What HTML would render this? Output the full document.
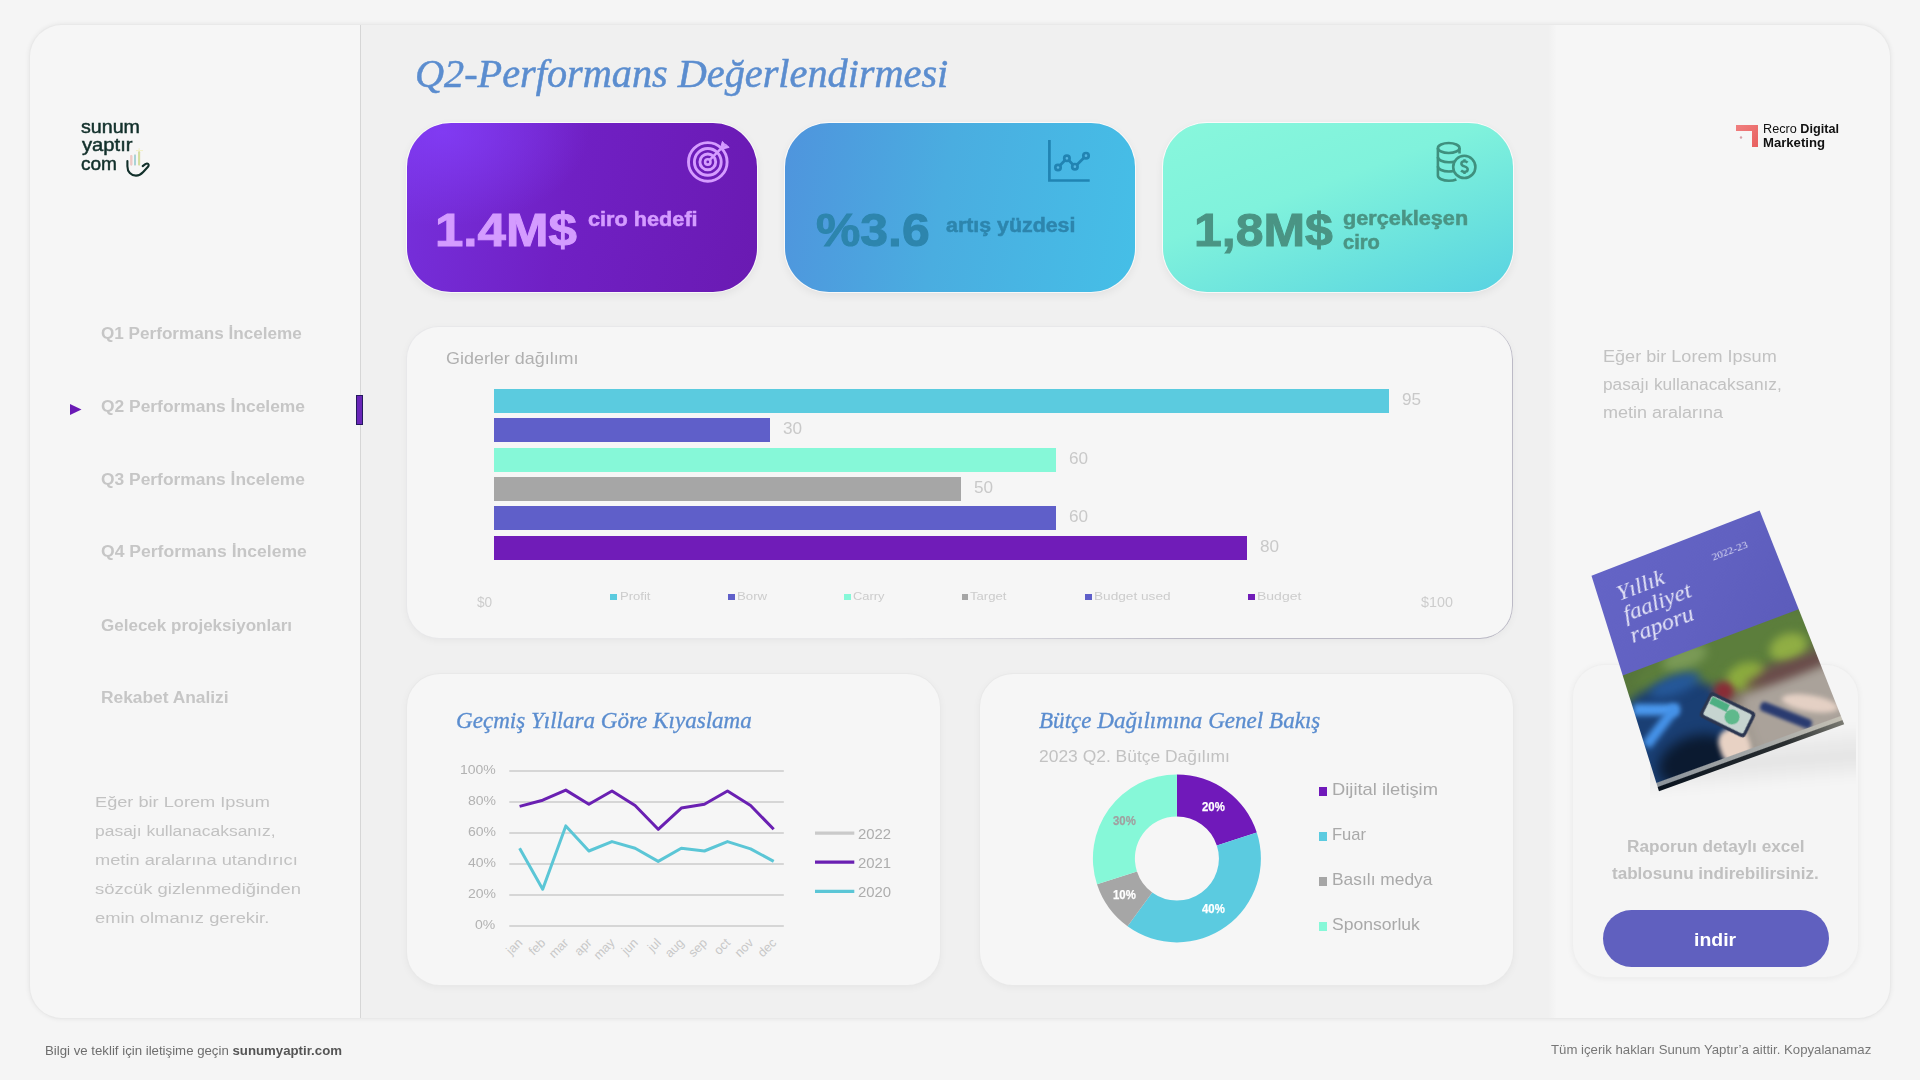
<!DOCTYPE html>
<html lang="tr">
<head>
<meta charset="utf-8">
<title>Q2-Performans Değerlendirmesi</title>
<style>
*{margin:0;padding:0;box-sizing:border-box}
html,body{width:1920px;height:1080px;overflow:hidden}
body{background:#f5f5f5;font-family:"Liberation Sans",sans-serif;position:relative}
.abs{position:absolute;white-space:nowrap;line-height:1}
.t{position:absolute;white-space:nowrap;line-height:1}
#main{position:absolute;left:30px;top:25px;width:1860px;height:993px;border-radius:32px;background:#f6f6f6;
 box-shadow:0 0 0 1px #e9e9e9,0 0 5px 1px rgba(0,0,0,.07);overflow:hidden}
#center{position:absolute;left:330px;top:0;width:1196px;height:993px;background:linear-gradient(90deg,#f0f0f0 0,#f0f0f0 1187px,#f6f6f6 1196px);border-left:1px solid #d6d6d6}
.card{position:absolute;background:#f6f6f6;border-radius:36px;box-shadow:0 0 0 1px #e9e9e9,0 2px 8px rgba(0,0,0,.05)}
.kpi{position:absolute;border-radius:44px;box-shadow:0 0 0 1px rgba(255,255,255,.75),0 3px 10px rgba(0,0,0,.07)}
.serif{font-family:"Liberation Serif",serif;font-style:italic}
</style>
</head>
<body>
<div id="main">
  <div id="center"></div>
</div>
<div class="t" style="left:81.10px;top:116.92px;font-size:19px;color:#12302b;font-family:'Liberation Sans',sans-serif;font-weight:normal;font-style:normal;transform:scaleX(1.0333);transform-origin:0 0;-webkit-text-stroke:0.5px #12302b;">sunum</div>
<div class="t" style="left:81.50px;top:134.92px;font-size:19px;color:#12302b;font-family:'Liberation Sans',sans-serif;font-weight:normal;font-style:normal;transform:scaleX(1.0625);transform-origin:0 0;-webkit-text-stroke:0.5px #12302b;">yaptır</div>
<div class="t" style="left:81.10px;top:153.62px;font-size:19px;color:#12302b;font-family:'Liberation Sans',sans-serif;font-weight:normal;font-style:normal;transform:scaleX(1.0028);transform-origin:0 0;-webkit-text-stroke:0.5px #12302b;">com</div>
<svg class="abs" style="left:120px;top:140px" width="36" height="40" viewBox="120 140 36 40">
 <path d="M131.3 156V164.4M135 155.4V164.6M139.1 152.2V164.4" stroke-width="2" stroke-linecap="round" fill="none" stroke="#e8d0c8"/>
 <path d="M135 155.4V164.6" stroke-width="2" stroke-linecap="round" stroke="#a9d3d6"/>
 <path d="M139.1 152.2V164.4" stroke-width="2" stroke-linecap="round" stroke="#d3df9e"/>
 <path d="M131.3 156V164.4" stroke-width="2" stroke-linecap="round" stroke="#efc9c6"/>
 <path d="M136 150.6H143M139.1 148.2V150" stroke-width="1" stroke="#f1efc4"/>
 <path d="M127.4 161V166.2C127.4 172 131 175.6 136 175.6C139.2 175.6 141.2 174.2 143.2 172L148 166.8C149.3 165.2 148.6 163.4 146.9 163.5C145.7 163.6 144.4 164.6 142.7 166.1" fill="none" stroke="#12302b" stroke-width="2.1" stroke-linecap="round" stroke-linejoin="round"/>
</svg>
<div class="t" style="left:100.60px;top:326.46px;font-size:16px;color:#c6c6c6;font-family:'Liberation Sans',sans-serif;font-weight:bold;font-style:normal;transform:scaleX(1.0697);transform-origin:0 0;">Q1 Performans İnceleme</div>
<div class="t" style="left:100.60px;top:399.46px;font-size:16px;color:#c6c6c6;font-family:'Liberation Sans',sans-serif;font-weight:bold;font-style:normal;transform:scaleX(1.0872);transform-origin:0 0;">Q2 Performans İnceleme</div>
<div class="t" style="left:100.60px;top:472.26px;font-size:16px;color:#c6c6c6;font-family:'Liberation Sans',sans-serif;font-weight:bold;font-style:normal;transform:scaleX(1.0872);transform-origin:0 0;">Q3 Performans İnceleme</div>
<div class="t" style="left:100.60px;top:544.46px;font-size:16px;color:#c6c6c6;font-family:'Liberation Sans',sans-serif;font-weight:bold;font-style:normal;transform:scaleX(1.0968);transform-origin:0 0;">Q4 Performans İnceleme</div>
<div class="t" style="left:100.60px;top:617.76px;font-size:16px;color:#c6c6c6;font-family:'Liberation Sans',sans-serif;font-weight:bold;font-style:normal;transform:scaleX(1.0633);transform-origin:0 0;">Gelecek projeksiyonları</div>
<div class="t" style="left:100.60px;top:690.26px;font-size:16px;color:#c6c6c6;font-family:'Liberation Sans',sans-serif;font-weight:bold;font-style:normal;transform:scaleX(1.0839);transform-origin:0 0;">Rekabet Analizi</div>
<svg class="abs" style="left:70px;top:404px" width="12" height="11"><path d="M0 0L11.5 5.5L0 11Z" fill="#6a1ab5"/></svg>
<div class="abs" style="left:356px;top:395px;width:7px;height:30px;background:#6a26b8;border:1px solid #241a5e"></div>
<div class="t" style="left:94.80px;top:794.48px;font-size:15.5px;color:#c2c2c2;font-family:'Liberation Sans',sans-serif;font-weight:normal;font-style:normal;transform:scaleX(1.1732);transform-origin:0 0;">Eğer bir Lorem Ipsum</div>
<div class="t" style="left:94.80px;top:823.28px;font-size:15.5px;color:#c2c2c2;font-family:'Liberation Sans',sans-serif;font-weight:normal;font-style:normal;transform:scaleX(1.1262);transform-origin:0 0;">pasajı kullanacaksanız,</div>
<div class="t" style="left:94.80px;top:851.98px;font-size:15.5px;color:#c2c2c2;font-family:'Liberation Sans',sans-serif;font-weight:normal;font-style:normal;transform:scaleX(1.1767);transform-origin:0 0;">metin aralarına utandırıcı</div>
<div class="t" style="left:94.80px;top:880.98px;font-size:15.5px;color:#c2c2c2;font-family:'Liberation Sans',sans-serif;font-weight:normal;font-style:normal;transform:scaleX(1.1902);transform-origin:0 0;">sözcük gizlenmediğinden</div>
<div class="t" style="left:94.80px;top:909.68px;font-size:15.5px;color:#c2c2c2;font-family:'Liberation Sans',sans-serif;font-weight:normal;font-style:normal;transform:scaleX(1.1830);transform-origin:0 0;">emin olmanız gerekir.</div>
<div class="t" style="left:415.40px;top:54.04px;font-size:39px;color:#5b8dcf;font-family:'Liberation Serif',serif;font-weight:normal;font-style:italic;transform:scaleX(1.0321);transform-origin:0 0;-webkit-text-stroke:0.5px #5b8dcf;">Q2-Performans Değerlendirmesi</div>
<div class="kpi" style="left:407px;top:123px;width:350px;height:169px;background:radial-gradient(ellipse 60% 80% at 10% 5%, rgba(130,60,245,.9), rgba(130,60,245,0) 70%),linear-gradient(100deg,#7630dc 0%,#7020c4 45%,#6a1ab2 100%)"></div>
<div class="kpi" style="left:785px;top:123px;width:350px;height:169px;background:linear-gradient(100deg,#4f94dd 0%,#4aade0 45%,#45bfe7 100%)"></div>
<div class="kpi" style="left:1163px;top:123px;width:350px;height:169px;background:linear-gradient(160deg,#88f7dc 0%,#80f2dc 40%,#68e0de 75%,#58d2e2 100%)"></div>
<div class="t" style="left:435.20px;top:205.81px;font-size:47px;color:#d49cff;font-family:'Liberation Sans',sans-serif;font-weight:bold;font-style:normal;transform:scaleX(1.0855);transform-origin:0 0;-webkit-text-stroke:1.0px #d49cff;">1.4M$</div>
<div class="t" style="left:588.00px;top:208.77px;font-size:20px;color:#d49cff;font-family:'Liberation Sans',sans-serif;font-weight:bold;font-style:normal;transform:scaleX(1.0842);transform-origin:0 0;-webkit-text-stroke:0.5px #d49cff;">ciro hedefi</div>
<div class="t" style="left:816.30px;top:205.81px;font-size:47px;color:#2d85ad;font-family:'Liberation Sans',sans-serif;font-weight:bold;font-style:normal;transform:scaleX(1.0617);transform-origin:0 0;-webkit-text-stroke:1.0px #2d85ad;">%3.6</div>
<div class="t" style="left:945.70px;top:214.67px;font-size:20px;color:#2d85ad;font-family:'Liberation Sans',sans-serif;font-weight:bold;font-style:normal;transform:scaleX(1.0678);transform-origin:0 0;-webkit-text-stroke:0.5px #2d85ad;">artış yüzdesi</div>
<div class="t" style="left:1193.90px;top:206.01px;font-size:47px;color:#4a9484;font-family:'Liberation Sans',sans-serif;font-weight:bold;font-style:normal;transform:scaleX(1.0626);transform-origin:0 0;-webkit-text-stroke:1.0px #4a9484;">1,8M$</div>
<div class="t" style="left:1342.50px;top:208.07px;font-size:20px;color:#4a9484;font-family:'Liberation Sans',sans-serif;font-weight:bold;font-style:normal;transform:scaleX(1.0819);transform-origin:0 0;-webkit-text-stroke:0.5px #4a9484;">gerçekleşen</div>
<div class="t" style="left:1342.50px;top:231.97px;font-size:20px;color:#4a9484;font-family:'Liberation Sans',sans-serif;font-weight:bold;font-style:normal;transform:scaleX(1.0054);transform-origin:0 0;-webkit-text-stroke:0.5px #4a9484;">ciro</div>
<!-- target icon -->
<svg class="abs" style="left:686px;top:140px" width="46" height="44" viewBox="0 0 46 44" fill="none" stroke="#d59cff" stroke-width="2.9">
 <circle cx="21.8" cy="21.9" r="19.3"/><circle cx="21.8" cy="21.9" r="13.4"/><circle cx="21.8" cy="21.9" r="7.9"/><circle cx="21.8" cy="21.9" r="2.7" stroke-width="2.6"/>
 <path d="M23.5 20.2L36.5 7.2" stroke-width="2.4"/>
 <path d="M34.2 9.6L36.4 1.4L39.6 5.2Z M34.4 9.4L43.2 7.4L39.6 4.2Z" fill="#d59cff" stroke-width="1" stroke-linejoin="round"/>
</svg>
<!-- chart icon -->
<svg class="abs" style="left:1046px;top:138px" width="46" height="46" viewBox="0 0 46 46" fill="none" stroke="#2184b3" stroke-width="2.7">
 <path d="M3.4 2V42.5H43.7"/>
 <polyline points="12,29.5 20.9,20.3 28.9,28.7 40,17.7"/>
 <circle cx="12" cy="29.5" r="2.7" fill="#56b6e2"/><circle cx="20.9" cy="20.3" r="2.7" fill="#56b6e2"/><circle cx="28.9" cy="28.7" r="2.7" fill="#56b6e2"/><circle cx="40" cy="17.7" r="2.7" fill="#56b6e2"/>
</svg>
<!-- coins icon -->
<svg class="abs" style="left:1435px;top:140px" width="45" height="44" viewBox="0 0 45 44" fill="none" stroke="#3f907e" stroke-width="2.6">
 <ellipse cx="13.7" cy="8" rx="10.8" ry="5"/>
 <path d="M2.9 8V35.5c0 3 5 5.3 11 5.3c3 0 5.5-.5 7.5-1.3"/>
 <path d="M2.9 17c0 3 5 5.3 11 5.3c2.4 0 4.5-.3 6.2-.8M2.9 26.2c0 3 5 5.3 11 5.3c1.7 0 3.2-.2 4.6-.5"/>
 <path d="M24.5 8V13.5"/>
 <circle cx="29.3" cy="26.9" r="11.1" fill="#77ecdc"/>
 <path d="M32.5 22.6c-.8-1-1.9-1.4-3-1.4c-1.8 0-3.1 1-3.1 2.5c0 3.4 6.3 1.9 6.3 5.6c0 1.5-1.3 2.6-3.2 2.6c-1.3 0-2.5-.5-3.4-1.4M29.5 19.2V21.2M29.5 31.9V33.9" stroke-width="2.5"/>
</svg>
<div class="card" style="left:407px;top:327px;width:1105px;height:311px;border-radius:32px;box-shadow:0 0 0 1px #e8e8ea,0 2px 8px rgba(0,0,0,.05)"></div>
<div class="abs" style="left:900px;top:326px;width:613px;height:313px;border-right:1.2px solid #bcbac6;border-bottom:1.2px solid #bcbac6;border-bottom-right-radius:33px;border-top-right-radius:33px;-webkit-mask-image:linear-gradient(90deg,transparent 0,#000 45%);-webkit-mask-image:linear-gradient(90deg,rgba(0,0,0,0) 0,rgba(0,0,0,1) 45%)"></div>
<div class="t" style="left:445.80px;top:349.61px;font-size:17px;color:#b0b0b0;font-family:'Liberation Sans',sans-serif;font-weight:normal;font-style:normal;transform:scaleX(1.0548);transform-origin:0 0;">Giderler dağılımı</div>
<div class="abs" style="left:494.2px;top:389px;width:894.55px;height:23.7px;background:#5bcbdf"></div>
<div class="t" style="left:1401.75px;top:391.86px;font-size:16px;color:#c9c9c9;font-family:'Liberation Sans',sans-serif;font-weight:normal;font-style:normal;transform:scaleX(1.0700);transform-origin:0 0;">95</div>
<div class="abs" style="left:494.2px;top:418px;width:275.60px;height:23.7px;background:#5f5fc9"></div>
<div class="t" style="left:782.80px;top:420.86px;font-size:16px;color:#c9c9c9;font-family:'Liberation Sans',sans-serif;font-weight:normal;font-style:normal;transform:scaleX(1.0700);transform-origin:0 0;">30</div>
<div class="abs" style="left:494.2px;top:448px;width:561.50px;height:23.7px;background:#86f8d8"></div>
<div class="t" style="left:1068.70px;top:450.86px;font-size:16px;color:#c9c9c9;font-family:'Liberation Sans',sans-serif;font-weight:normal;font-style:normal;transform:scaleX(1.0700);transform-origin:0 0;">60</div>
<div class="abs" style="left:494.2px;top:477px;width:466.40px;height:23.7px;background:#a6a6a6"></div>
<div class="t" style="left:973.60px;top:479.86px;font-size:16px;color:#c9c9c9;font-family:'Liberation Sans',sans-serif;font-weight:normal;font-style:normal;transform:scaleX(1.0700);transform-origin:0 0;">50</div>
<div class="abs" style="left:494.2px;top:506px;width:561.50px;height:23.7px;background:#5f5fc9"></div>
<div class="t" style="left:1068.70px;top:508.86px;font-size:16px;color:#c9c9c9;font-family:'Liberation Sans',sans-serif;font-weight:normal;font-style:normal;transform:scaleX(1.0700);transform-origin:0 0;">60</div>
<div class="abs" style="left:494.2px;top:536px;width:752.60px;height:23.7px;background:#701cb8"></div>
<div class="t" style="left:1259.80px;top:538.86px;font-size:16px;color:#c9c9c9;font-family:'Liberation Sans',sans-serif;font-weight:normal;font-style:normal;transform:scaleX(1.0700);transform-origin:0 0;">80</div>
<div class="t" style="left:476.50px;top:594.85px;font-size:14px;color:#cdcdcd;font-family:'Liberation Sans',sans-serif;font-weight:normal;font-style:normal;transform:scaleX(0.9750);transform-origin:0 0;">$0</div>
<div class="t" style="left:1420.70px;top:594.85px;font-size:14px;color:#cdcdcd;font-family:'Liberation Sans',sans-serif;font-weight:normal;font-style:normal;transform:scaleX(1.0226);transform-origin:0 0;">$100</div>
<div class="abs" style="left:610.1px;top:594.2px;width:6.8px;height:5.8px;background:#5bcbdf"></div>
<div class="t" style="left:620.00px;top:590.87px;font-size:11.5px;color:#cccccc;font-family:'Liberation Sans',sans-serif;font-weight:normal;font-style:normal;transform:scaleX(1.1357);transform-origin:0 0;">Profit</div>
<div class="abs" style="left:728px;top:594.2px;width:6.8px;height:5.8px;background:#5f5fc9"></div>
<div class="t" style="left:737.20px;top:590.87px;font-size:11.5px;color:#cccccc;font-family:'Liberation Sans',sans-serif;font-weight:normal;font-style:normal;transform:scaleX(1.1519);transform-origin:0 0;">Borw</div>
<div class="abs" style="left:843.8px;top:594.2px;width:6.8px;height:5.8px;background:#86f8d8"></div>
<div class="t" style="left:853.30px;top:590.87px;font-size:11.5px;color:#cccccc;font-family:'Liberation Sans',sans-serif;font-weight:normal;font-style:normal;transform:scaleX(1.1214);transform-origin:0 0;">Carry</div>
<div class="abs" style="left:961.5px;top:594.2px;width:6.8px;height:5.8px;background:#a6a6a6"></div>
<div class="t" style="left:970.40px;top:590.87px;font-size:11.5px;color:#cccccc;font-family:'Liberation Sans',sans-serif;font-weight:normal;font-style:normal;transform:scaleX(1.1394);transform-origin:0 0;">Target</div>
<div class="abs" style="left:1085px;top:594.2px;width:6.8px;height:5.8px;background:#5f5fc9"></div>
<div class="t" style="left:1094.20px;top:590.87px;font-size:11.5px;color:#cccccc;font-family:'Liberation Sans',sans-serif;font-weight:normal;font-style:normal;transform:scaleX(1.1862);transform-origin:0 0;">Budget used</div>
<div class="abs" style="left:1248px;top:594.2px;width:6.8px;height:5.8px;background:#701cb8"></div>
<div class="t" style="left:1257.20px;top:590.87px;font-size:11.5px;color:#cccccc;font-family:'Liberation Sans',sans-serif;font-weight:normal;font-style:normal;transform:scaleX(1.2162);transform-origin:0 0;">Budget</div>
<div class="card" style="left:407px;top:674px;width:533px;height:311px;border-radius:33px"></div>
<div class="t" style="left:456.00px;top:707.60px;font-size:24px;color:#5b8dcf;font-family:'Liberation Serif',serif;font-weight:normal;font-style:italic;transform:scaleX(0.9610);transform-origin:0 0;-webkit-text-stroke:0.35px #5b8dcf;">Geçmiş Yıllara Göre Kıyaslama</div>
<svg class="abs" style="left:440px;top:750px" width="480" height="230" viewBox="440 750 480 230">
<line x1="509.3" x2="783.8" y1="770.90" y2="770.90" stroke="#d6d6d6" stroke-width="2"/>
<line x1="509.3" x2="783.8" y1="801.90" y2="801.90" stroke="#d6d6d6" stroke-width="2"/>
<line x1="509.3" x2="783.8" y1="832.90" y2="832.90" stroke="#d6d6d6" stroke-width="2"/>
<line x1="509.3" x2="783.8" y1="863.90" y2="863.90" stroke="#d6d6d6" stroke-width="2"/>
<line x1="509.3" x2="783.8" y1="894.90" y2="894.90" stroke="#d6d6d6" stroke-width="2"/>
<line x1="509.3" x2="783.8" y1="925.90" y2="925.90" stroke="#d6d6d6" stroke-width="2"/>
<polyline points="519.6,806.4 542.7,800.2 565.8,790.1 588.9,804.2 612.0,791.0 635.1,805.5 658.2,829.3 681.3,808.1 704.4,804.2 727.5,791.0 750.6,805.5 773.7,829.3" fill="none" stroke="#6a20b2" stroke-width="3" stroke-linejoin="round"/>
<polyline points="519.6,848.2 542.7,889.2 565.8,825.9 588.9,851.0 612.0,841.6 635.1,848.2 658.2,861.4 681.3,848.2 704.4,851.0 727.5,841.6 750.6,848.9 773.7,861.4" fill="none" stroke="#5bc6d6" stroke-width="3" stroke-linejoin="round"/>
<text x="523.1" y="943.5" transform="rotate(-45 523.1 943.5)" text-anchor="end" font-size="12.6" fill="#c8c8c8" font-family="Liberation Sans">jan</text>
<text x="546.2" y="943.5" transform="rotate(-45 546.2 943.5)" text-anchor="end" font-size="12.6" fill="#c8c8c8" font-family="Liberation Sans">feb</text>
<text x="569.3" y="943.5" transform="rotate(-45 569.3 943.5)" text-anchor="end" font-size="12.6" fill="#c8c8c8" font-family="Liberation Sans">mar</text>
<text x="592.4" y="943.5" transform="rotate(-45 592.4 943.5)" text-anchor="end" font-size="12.6" fill="#c8c8c8" font-family="Liberation Sans">apr</text>
<text x="615.5" y="943.5" transform="rotate(-45 615.5 943.5)" text-anchor="end" font-size="12.6" fill="#c8c8c8" font-family="Liberation Sans">may</text>
<text x="638.6" y="943.5" transform="rotate(-45 638.6 943.5)" text-anchor="end" font-size="12.6" fill="#c8c8c8" font-family="Liberation Sans">jun</text>
<text x="661.7" y="943.5" transform="rotate(-45 661.7 943.5)" text-anchor="end" font-size="12.6" fill="#c8c8c8" font-family="Liberation Sans">jul</text>
<text x="684.8" y="943.5" transform="rotate(-45 684.8 943.5)" text-anchor="end" font-size="12.6" fill="#c8c8c8" font-family="Liberation Sans">aug</text>
<text x="707.9" y="943.5" transform="rotate(-45 707.9 943.5)" text-anchor="end" font-size="12.6" fill="#c8c8c8" font-family="Liberation Sans">sep</text>
<text x="731.0" y="943.5" transform="rotate(-45 731.0 943.5)" text-anchor="end" font-size="12.6" fill="#c8c8c8" font-family="Liberation Sans">oct</text>
<text x="754.1" y="943.5" transform="rotate(-45 754.1 943.5)" text-anchor="end" font-size="12.6" fill="#c8c8c8" font-family="Liberation Sans">nov</text>
<text x="777.2" y="943.5" transform="rotate(-45 777.2 943.5)" text-anchor="end" font-size="12.6" fill="#c8c8c8" font-family="Liberation Sans">dec</text>
<line x1="815" x2="854.3" y1="833.2" y2="833.2" stroke="#cacaca" stroke-width="3.2"/>
<line x1="815" x2="854.3" y1="862.1" y2="862.1" stroke="#6a20b2" stroke-width="3.2"/>
<line x1="815" x2="854.3" y1="891.4" y2="891.4" stroke="#5bc6d6" stroke-width="3.2"/>
</svg>
<div class="t" style="left:459.95px;top:763.29px;font-size:13.6px;color:#b2b2b2;font-family:'Liberation Sans',sans-serif;font-weight:normal;font-style:normal;transform:scaleX(1.0300);transform-origin:0 0;">100%</div>
<div class="t" style="left:468.19px;top:794.29px;font-size:13.6px;color:#b2b2b2;font-family:'Liberation Sans',sans-serif;font-weight:normal;font-style:normal;transform:scaleX(1.0300);transform-origin:0 0;">80%</div>
<div class="t" style="left:468.19px;top:825.29px;font-size:13.6px;color:#b2b2b2;font-family:'Liberation Sans',sans-serif;font-weight:normal;font-style:normal;transform:scaleX(1.0300);transform-origin:0 0;">60%</div>
<div class="t" style="left:468.19px;top:856.29px;font-size:13.6px;color:#b2b2b2;font-family:'Liberation Sans',sans-serif;font-weight:normal;font-style:normal;transform:scaleX(1.0300);transform-origin:0 0;">40%</div>
<div class="t" style="left:468.19px;top:887.29px;font-size:13.6px;color:#b2b2b2;font-family:'Liberation Sans',sans-serif;font-weight:normal;font-style:normal;transform:scaleX(1.0300);transform-origin:0 0;">20%</div>
<div class="t" style="left:475.40px;top:918.29px;font-size:13.6px;color:#b2b2b2;font-family:'Liberation Sans',sans-serif;font-weight:normal;font-style:normal;transform:scaleX(1.0300);transform-origin:0 0;">0%</div>
<div class="t" style="left:857.80px;top:825.80px;font-size:15px;color:#adadad;font-family:'Liberation Sans',sans-serif;font-weight:normal;font-style:normal;transform:scaleX(0.9939);transform-origin:0 0;">2022</div>
<div class="t" style="left:857.80px;top:854.70px;font-size:15px;color:#adadad;font-family:'Liberation Sans',sans-serif;font-weight:normal;font-style:normal;transform:scaleX(0.9939);transform-origin:0 0;">2021</div>
<div class="t" style="left:857.80px;top:884.00px;font-size:15px;color:#adadad;font-family:'Liberation Sans',sans-serif;font-weight:normal;font-style:normal;transform:scaleX(0.9939);transform-origin:0 0;">2020</div>
<div class="card" style="left:980px;top:674px;width:533px;height:311px;border-radius:33px"></div>
<div class="t" style="left:1039.30px;top:707.60px;font-size:24px;color:#5b8dcf;font-family:'Liberation Serif',serif;font-weight:normal;font-style:italic;transform:scaleX(0.9614);transform-origin:0 0;-webkit-text-stroke:0.35px #5b8dcf;">Bütçe Dağılımına Genel Bakış</div>
<div class="t" style="left:1039.00px;top:747.91px;font-size:17px;color:#c2c2c2;font-family:'Liberation Sans',sans-serif;font-weight:normal;font-style:normal;transform:scaleX(1.0258);transform-origin:0 0;">2023 Q2. Bütçe Dağılımı</div>
<svg class="abs" style="left:1080px;top:760px" width="200" height="200" viewBox="1080 760 200 200">
<path d="M1176.90 774.40A84 84 0 0 1 1256.79 832.44L1216.84 845.42A42 42 0 0 0 1176.90 816.40Z" fill="#7019ba"/>
<path d="M1256.79 832.44A84 84 0 0 1 1127.53 926.36L1152.21 892.38A42 42 0 0 0 1216.84 845.42Z" fill="#5bcbe0"/>
<path d="M1127.53 926.36A84 84 0 0 1 1097.01 884.36L1136.96 871.38A42 42 0 0 0 1152.21 892.38Z" fill="#a6a6a6"/>
<path d="M1097.01 884.36A84 84 0 0 1 1176.90 774.40L1176.90 816.40A42 42 0 0 0 1136.96 871.38Z" fill="#86f8d8"/>
</svg>
<div class="t" style="left:1201.65px;top:801.32px;font-size:12.5px;color:#fff;font-family:'Liberation Sans',sans-serif;font-weight:bold;font-style:normal;transform:scaleX(0.9115);transform-origin:0 0;-webkit-text-stroke:0.25px #fff;">20%</div>
<div class="t" style="left:1201.65px;top:903.32px;font-size:12.5px;color:#fff;font-family:'Liberation Sans',sans-serif;font-weight:bold;font-style:normal;transform:scaleX(0.9115);transform-origin:0 0;-webkit-text-stroke:0.25px #fff;">40%</div>
<div class="t" style="left:1113.45px;top:889.42px;font-size:12.5px;color:#fff;font-family:'Liberation Sans',sans-serif;font-weight:bold;font-style:normal;transform:scaleX(0.9115);transform-origin:0 0;-webkit-text-stroke:0.25px #fff;">10%</div>
<div class="t" style="left:1113.45px;top:815.42px;font-size:12.5px;color:#a0a0a0;font-family:'Liberation Sans',sans-serif;font-weight:bold;font-style:normal;transform:scaleX(0.9115);transform-origin:0 0;-webkit-text-stroke:0.25px #a0a0a0;">30%</div>
<div class="abs" style="left:1319.1px;top:787.0px;width:7.8px;height:8.8px;background:#7019ba"></div>
<div class="t" style="left:1331.90px;top:781.09px;font-size:16.2px;color:#a9a9a9;font-family:'Liberation Sans',sans-serif;font-weight:normal;font-style:normal;transform:scaleX(1.1330);transform-origin:0 0;">Dijital iletişim</div>
<div class="abs" style="left:1319.1px;top:832.0px;width:7.8px;height:8.8px;background:#5bcbe0"></div>
<div class="t" style="left:1331.90px;top:826.09px;font-size:16.2px;color:#a9a9a9;font-family:'Liberation Sans',sans-serif;font-weight:normal;font-style:normal;transform:scaleX(1.0235);transform-origin:0 0;">Fuar</div>
<div class="abs" style="left:1319.1px;top:877.0px;width:7.8px;height:8.8px;background:#a6a6a6"></div>
<div class="t" style="left:1331.90px;top:871.09px;font-size:16.2px;color:#a9a9a9;font-family:'Liberation Sans',sans-serif;font-weight:normal;font-style:normal;transform:scaleX(1.0734);transform-origin:0 0;">Basılı medya</div>
<div class="abs" style="left:1319.1px;top:922.0px;width:7.8px;height:8.8px;background:#86f8d8"></div>
<div class="t" style="left:1331.90px;top:916.09px;font-size:16.2px;color:#a9a9a9;font-family:'Liberation Sans',sans-serif;font-weight:normal;font-style:normal;transform:scaleX(1.0854);transform-origin:0 0;">Sponsorluk</div>
<svg class="abs" style="left:1735px;top:124px" width="25" height="24" viewBox="0 0 25 24">
 <defs><linearGradient id="rg" x1="0" y1="0" x2="1" y2="1"><stop offset="0" stop-color="#f08080"/><stop offset="1" stop-color="#e8605f"/></linearGradient></defs>
 <path d="M1 1H23V23H17V7H1Z" fill="url(#rg)"/><circle cx="6" cy="13.5" r="1.2" fill="#d9a0a8"/>
</svg>
<div class="t" style="left:1763px;top:122.54px;font-size:12px;color:#111;transform:scaleX(1.055);transform-origin:0 0">Recro <b>Digital</b></div>
<div class="t" style="left:1763.00px;top:136.74px;font-size:12px;color:#111;font-family:'Liberation Sans',sans-serif;font-weight:bold;font-style:normal;transform:scaleX(1.0930);transform-origin:0 0;">Marketing</div>
<div class="t" style="left:1602.50px;top:349.29px;font-size:15.6px;color:#c2c2c2;font-family:'Liberation Sans',sans-serif;font-weight:normal;font-style:normal;transform:scaleX(1.1587);transform-origin:0 0;">Eğer bir Lorem Ipsum</div>
<div class="t" style="left:1602.50px;top:376.89px;font-size:15.6px;color:#c2c2c2;font-family:'Liberation Sans',sans-serif;font-weight:normal;font-style:normal;transform:scaleX(1.1087);transform-origin:0 0;">pasajı kullanacaksanız,</div>
<div class="t" style="left:1602.50px;top:405.39px;font-size:15.6px;color:#c2c2c2;font-family:'Liberation Sans',sans-serif;font-weight:normal;font-style:normal;transform:scaleX(1.1548);transform-origin:0 0;">metin aralarına</div>
<div class="card" style="left:1573px;top:665px;width:285px;height:312px;border-radius:32px;background:#f5f5f5;box-shadow:0 0 0 1px #efefef,0 1px 6px 1px rgba(0,0,0,.05)"></div>
<div class="t" style="left:1626.70px;top:839.46px;font-size:16px;color:#c0c0c0;font-family:'Liberation Sans',sans-serif;font-weight:bold;font-style:normal;transform:scaleX(1.0741);transform-origin:0 0;">Raporun detaylı excel</div>
<div class="t" style="left:1612.30px;top:866.46px;font-size:16px;color:#c0c0c0;font-family:'Liberation Sans',sans-serif;font-weight:bold;font-style:normal;transform:scaleX(1.0670);transform-origin:0 0;">tablosunu indirebilirsiniz.</div>
<div class="abs" style="left:1603px;top:910px;width:226px;height:57px;border-radius:29px;background:#6060bf"></div>
<div class="t" style="left:1694.30px;top:929.92px;font-size:19px;color:#fff;font-family:'Liberation Sans',sans-serif;font-weight:bold;font-style:normal;transform:scaleX(1.0238);transform-origin:0 0;">indir</div>
<!-- book shadow -->
<div class="abs" style="left:1650px;top:722px;width:206px;height:78px;overflow:hidden">
 <div style="position:absolute;left:-20px;top:8px;width:240px;height:60px;background:linear-gradient(180deg,rgba(0,0,0,0),rgba(0,0,0,.07) 55%,rgba(0,0,0,.02) 85%,rgba(0,0,0,0));filter:blur(3px);transform:rotate(-4deg)"></div>
</div>
<!-- book -->
<div id="book" style="position:absolute;left:0;top:0;width:180px;height:225px;transform-origin:0 0;transform:matrix3d(0.7524155,-0.4161307,0,-0.0001034,-0.3141775,0.6644236,0,-0.0003702,0,0,1,0,1591.5,575.8,0,1);overflow:hidden;background:#6a7a5a">
 <div style="position:absolute;left:0;top:0;width:180px;height:109px;background:linear-gradient(135deg,#6464c6,#6161c1 55%,#5c5cbb)"></div>
 <div style="position:absolute;left:0;top:109px;width:180px;height:116px;overflow:hidden;background:linear-gradient(180deg,#56763a 0,#5a7a3c 30px,#6a5a50 50px,#a29a90 75px,#a09a92 110px)">
  <div style="position:absolute;left:10px;top:-12px;width:180px;height:50px;border-radius:50%;background:#5c7e3c;filter:blur(6px)"></div>
  <div style="position:absolute;left:40px;top:-6px;width:45px;height:22px;border-radius:50%;background:#7a9a56;filter:blur(5px)"></div>
  <div style="position:absolute;left:92px;top:30px;width:38px;height:26px;border-radius:50%;background:#8cac3e;filter:blur(4px)"></div>
  <div style="position:absolute;left:140px;top:18px;width:36px;height:26px;border-radius:50%;background:#90ae44;filter:blur(4px)"></div>
  <div style="position:absolute;left:108px;top:44px;width:80px;height:18px;border-radius:50%;background:#6a4c4a;filter:blur(5px)"></div>
  <div style="position:absolute;left:100px;top:60px;width:90px;height:55px;background:#aaa29a;filter:blur(5px)"></div>
  <div style="position:absolute;left:-25px;top:22px;width:110px;height:110px;border-radius:40%;background:#1a3f74;filter:blur(5px)"></div>
  <div style="position:absolute;left:5px;top:78px;width:70px;height:45px;border-radius:50%;background:#0b1a30;filter:blur(6px)"></div>
  <div style="position:absolute;left:0px;top:30px;width:44px;height:11px;background:#4a98ee;filter:blur(2.5px);transform:rotate(20deg);transform-origin:0 50%"></div>
  <div style="position:absolute;left:40px;top:42px;width:46px;height:10px;background:#4592e8;filter:blur(2.5px);transform:rotate(147deg);transform-origin:0 50%"></div>
  <div style="position:absolute;left:20px;top:18px;width:50px;height:18px;border-radius:50%;background:#25589a;filter:blur(5px)"></div>
  <div style="position:absolute;left:78px;top:40px;width:18px;height:18px;border-radius:50%;background:#8a2c36;filter:blur(3px)"></div>
  <div style="position:absolute;left:132px;top:80px;width:52px;height:15px;border-radius:50%;background:#e4d0c4;filter:blur(2px);transform:rotate(30deg)"></div>
  <div style="position:absolute;left:115px;top:69px;width:50px;height:9px;border-radius:4px;background:#2a3b70;filter:blur(1.5px);transform:rotate(42deg);transform-origin:0 50%"></div>
  <div style="position:absolute;left:66px;top:84px;width:28px;height:32px;border-radius:40%;background:#e8d2c4;filter:blur(2px)"></div>
  <div style="position:absolute;left:59px;top:58px;width:48px;height:26px;border-radius:4px;background:#2c3650;transform:rotate(46deg)">
   <div style="position:absolute;left:3px;top:3px;width:42px;height:20px;border-radius:2px;background:#c6d4d0"></div>
   <div style="position:absolute;left:4px;top:4px;width:18px;height:7px;background:#4caf82"></div>
   <div style="position:absolute;left:22px;top:6px;width:14px;height:14px;border-radius:50%;background:#5fb98c"></div>
  </div>
 </div>
 <div class="serif" style="position:absolute;left:19px;top:17px;font-size:23.5px;line-height:23px;color:#e4e4f6">Yıllık<br>faaliyet<br>raporu</div>
 <div style="position:absolute;left:120px;top:22px;font-family:'Liberation Serif',serif;font-size:11px;color:#dcdcf4">2022-23</div>
 <div style="position:absolute;left:0;top:217px;width:180px;height:4px;background:linear-gradient(90deg,#8c949c,#a8aaa8 60%,#c4c0b4)"></div>
 <div style="position:absolute;left:0;top:221px;width:180px;height:4px;background:linear-gradient(90deg,#08121e,#2a2e30 70%,#7a7a72)"></div>
</div>
<div class="t" style="left:44.80px;top:1043.80px;font-size:13px;color:#6e6e6e;transform:scaleX(1.0175);transform-origin:0 0">Bilgi ve teklif için iletişime geçin <b style="color:#555">sunumyaptir.com</b></div>
<div class="t" style="left:1551.40px;top:1043.30px;font-size:13px;color:#777;font-family:'Liberation Sans',sans-serif;font-weight:normal;font-style:normal;transform:scaleX(1.0142);transform-origin:0 0;">Tüm içerik hakları Sunum Yaptır’a aittir. Kopyalanamaz</div>
</body>
</html>
